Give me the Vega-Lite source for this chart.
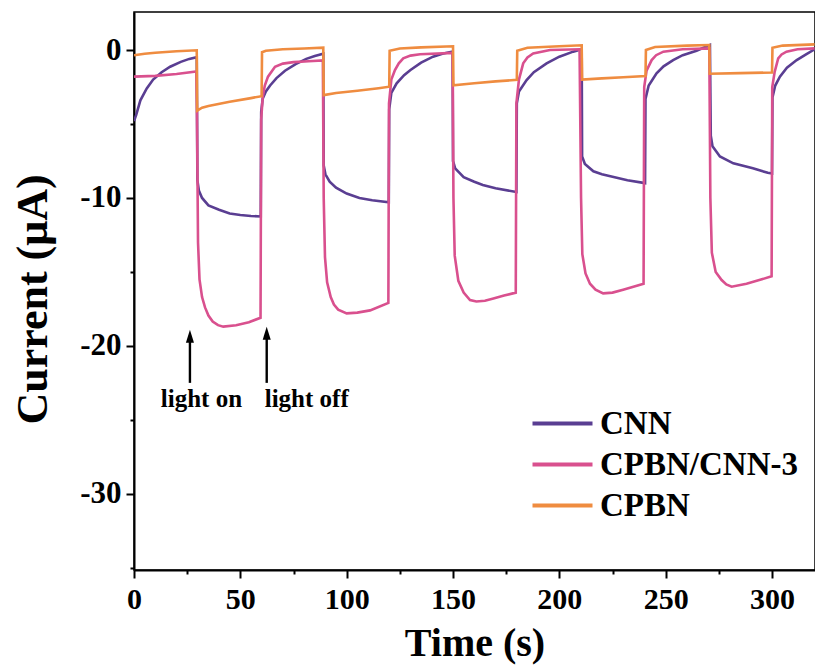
{
  "$schema": "https://vega.github.io/schema/vega-lite/v6.json",
  "width": 681,
  "height": 558,
  "autosize": {"type": "none"},
  "padding": {"left": 134, "top": 12, "right": 0, "bottom": 101},
  "background": "white",
  "config": {
    "font": "Liberation Serif",
    "view": {"stroke": "black", "strokeWidth": 1.5},
    "axis": {
      "domainColor": "black",
      "domainWidth": 2,
      "tickColor": "black",
      "tickWidth": 2,
      "labelColor": "black",
      "labelFont": "Liberation Serif",
      "labelFontWeight": "bold",
      "titleFont": "Liberation Serif",
      "titleFontWeight": "bold",
      "titleColor": "black",
      "grid": false
    },
    "legend": {
      "labelFont": "Liberation Serif",
      "labelFontWeight": "bold",
      "labelColor": "black"
    }
  },
  "encoding": {
    "x": {
      "field": "t",
      "type": "quantitative",
      "scale": {"domain": [0, 320.2], "nice": false, "zero": false},
      "axis": {
        "title": "Time (s)",
        "titleFontSize": 40,
        "titlePadding": 9,
        "values": [0, 25, 50, 75, 100, 125, 150, 175, 200, 225, 250, 275, 300],
        "labelExpr": "datum.value % 50 === 0 ? toString(datum.value) : ''",
        "labelFontSize": 30,
        "labelPadding": 6,
        "labelFlush": false,
        "tickSize": {"condition": {"test": "datum.value % 50 !== 0", "value": 4}, "value": 8}
      }
    },
    "y": {
      "field": "i",
      "type": "quantitative",
      "scale": {"domain": [-35.15, 2.57], "nice": false, "zero": false},
      "axis": {
        "title": "Current (μA)",
        "titleFontSize": 44,
        "titlePadding": 24,
        "titleY": 287,
        "values": [-35, -30, -25, -20, -15, -10, -5, 0],
        "labelExpr": "datum.value % 10 === 0 ? toString(datum.value) : ''",
        "labelFontSize": 31,
        "labelPadding": 5,
        "labelFlush": false,
        "tickSize": {"condition": {"test": "datum.value % 10 !== 0", "value": 4}, "value": 8}
      }
    }
  },
  "layer": [
    {
      "data": {
        "values": [
          {"s": "CNN", "t": 0, "i": -4.8}, {"s": "CNN", "t": 1, "i": -4.4}, {"s": "CNN", "t": 3, "i": -3.4}, {"s": "CNN", "t": 6, "i": -2.6}, {"s": "CNN", "t": 9, "i": -2.0}, {"s": "CNN", "t": 13, "i": -1.5}, {"s": "CNN", "t": 17, "i": -1.13}, {"s": "CNN", "t": 22, "i": -0.8}, {"s": "CNN", "t": 26, "i": -0.6}, {"s": "CNN", "t": 29.5, "i": -0.48},
          {"s": "CNN", "t": 29.8, "i": -8.8}, {"s": "CNN", "t": 30.5, "i": -9.5}, {"s": "CNN", "t": 32, "i": -10.0}, {"s": "CNN", "t": 35, "i": -10.5}, {"s": "CNN", "t": 40, "i": -10.8}, {"s": "CNN", "t": 45, "i": -11.05}, {"s": "CNN", "t": 50, "i": -11.15}, {"s": "CNN", "t": 55, "i": -11.22}, {"s": "CNN", "t": 59.6, "i": -11.25},
          {"s": "CNN", "t": 59.8, "i": -4.2}, {"s": "CNN", "t": 60.5, "i": -3.3}, {"s": "CNN", "t": 62, "i": -2.8}, {"s": "CNN", "t": 64, "i": -2.4}, {"s": "CNN", "t": 67, "i": -1.9}, {"s": "CNN", "t": 71, "i": -1.4}, {"s": "CNN", "t": 76, "i": -0.95}, {"s": "CNN", "t": 81, "i": -0.6}, {"s": "CNN", "t": 85, "i": -0.4}, {"s": "CNN", "t": 89, "i": -0.25},
          {"s": "CNN", "t": 89.2, "i": -7.8}, {"s": "CNN", "t": 90, "i": -8.4}, {"s": "CNN", "t": 92, "i": -8.9}, {"s": "CNN", "t": 95, "i": -9.3}, {"s": "CNN", "t": 100, "i": -9.7}, {"s": "CNN", "t": 106, "i": -10.0}, {"s": "CNN", "t": 112, "i": -10.15}, {"s": "CNN", "t": 119.8, "i": -10.3},
          {"s": "CNN", "t": 120, "i": -4.0}, {"s": "CNN", "t": 121, "i": -2.9}, {"s": "CNN", "t": 123.5, "i": -2.25}, {"s": "CNN", "t": 127, "i": -1.7}, {"s": "CNN", "t": 130, "i": -1.35}, {"s": "CNN", "t": 135, "i": -0.85}, {"s": "CNN", "t": 140.6, "i": -0.45}, {"s": "CNN", "t": 145, "i": -0.25}, {"s": "CNN", "t": 149.8, "i": -0.1},
          {"s": "CNN", "t": 150, "i": -7.5}, {"s": "CNN", "t": 151, "i": -8.0}, {"s": "CNN", "t": 155, "i": -8.6}, {"s": "CNN", "t": 160, "i": -8.9}, {"s": "CNN", "t": 164, "i": -9.12}, {"s": "CNN", "t": 170, "i": -9.35}, {"s": "CNN", "t": 179.8, "i": -9.6},
          {"s": "CNN", "t": 180, "i": -3.6}, {"s": "CNN", "t": 181, "i": -2.8}, {"s": "CNN", "t": 184.6, "i": -2.03}, {"s": "CNN", "t": 188, "i": -1.5}, {"s": "CNN", "t": 194, "i": -0.9}, {"s": "CNN", "t": 200, "i": -0.45}, {"s": "CNN", "t": 206.5, "i": -0.11}, {"s": "CNN", "t": 210.5, "i": 0.05},
          {"s": "CNN", "t": 210.7, "i": -7.2}, {"s": "CNN", "t": 212, "i": -7.7}, {"s": "CNN", "t": 216, "i": -8.2}, {"s": "CNN", "t": 220, "i": -8.4}, {"s": "CNN", "t": 225, "i": -8.56}, {"s": "CNN", "t": 232, "i": -8.8}, {"s": "CNN", "t": 240.3, "i": -9.0},
          {"s": "CNN", "t": 240.5, "i": -3.3}, {"s": "CNN", "t": 242, "i": -2.4}, {"s": "CNN", "t": 245.7, "i": -1.58}, {"s": "CNN", "t": 249, "i": -1.1}, {"s": "CNN", "t": 253.5, "i": -0.68}, {"s": "CNN", "t": 258, "i": -0.35}, {"s": "CNN", "t": 264.5, "i": -0.05}, {"s": "CNN", "t": 270.8, "i": 0.34},
          {"s": "CNN", "t": 271.2, "i": -5.8}, {"s": "CNN", "t": 272, "i": -6.5}, {"s": "CNN", "t": 275.5, "i": -7.2}, {"s": "CNN", "t": 281.8, "i": -7.66}, {"s": "CNN", "t": 291, "i": -8.0}, {"s": "CNN", "t": 298, "i": -8.3}, {"s": "CNN", "t": 300, "i": -8.35},
          {"s": "CNN", "t": 300.2, "i": -3.2}, {"s": "CNN", "t": 301.5, "i": -2.4}, {"s": "CNN", "t": 303.7, "i": -1.8}, {"s": "CNN", "t": 307, "i": -1.2}, {"s": "CNN", "t": 311.6, "i": -0.68}, {"s": "CNN", "t": 316, "i": -0.3}, {"s": "CNN", "t": 320, "i": 0.05},

          {"s": "CPBN/CNN-3", "t": 0, "i": -1.8}, {"s": "CPBN/CNN-3", "t": 10, "i": -1.75}, {"s": "CPBN/CNN-3", "t": 20, "i": -1.62}, {"s": "CPBN/CNN-3", "t": 29.3, "i": -1.45},
          {"s": "CPBN/CNN-3", "t": 29.6, "i": -4.2}, {"s": "CPBN/CNN-3", "t": 30.1, "i": -13}, {"s": "CPBN/CNN-3", "t": 30.8, "i": -15.5}, {"s": "CPBN/CNN-3", "t": 32, "i": -16.7}, {"s": "CPBN/CNN-3", "t": 33.4, "i": -17.4}, {"s": "CPBN/CNN-3", "t": 35, "i": -17.95}, {"s": "CPBN/CNN-3", "t": 37, "i": -18.35}, {"s": "CPBN/CNN-3", "t": 39.5, "i": -18.6}, {"s": "CPBN/CNN-3", "t": 42, "i": -18.7}, {"s": "CPBN/CNN-3", "t": 48, "i": -18.6}, {"s": "CPBN/CNN-3", "t": 54, "i": -18.4}, {"s": "CPBN/CNN-3", "t": 59.5, "i": -18.1},
          {"s": "CPBN/CNN-3", "t": 59.8, "i": -4.7}, {"s": "CPBN/CNN-3", "t": 60.5, "i": -3.2}, {"s": "CPBN/CNN-3", "t": 61.5, "i": -2.4}, {"s": "CPBN/CNN-3", "t": 63, "i": -1.8}, {"s": "CPBN/CNN-3", "t": 66.3, "i": -1.13}, {"s": "CPBN/CNN-3", "t": 70, "i": -0.92}, {"s": "CPBN/CNN-3", "t": 75, "i": -0.82}, {"s": "CPBN/CNN-3", "t": 82, "i": -0.76}, {"s": "CPBN/CNN-3", "t": 88.8, "i": -0.7},
          {"s": "CPBN/CNN-3", "t": 89.2, "i": -10}, {"s": "CPBN/CNN-3", "t": 89.8, "i": -14}, {"s": "CPBN/CNN-3", "t": 90.8, "i": -15.7}, {"s": "CPBN/CNN-3", "t": 92.5, "i": -16.7}, {"s": "CPBN/CNN-3", "t": 94, "i": -17.2}, {"s": "CPBN/CNN-3", "t": 96, "i": -17.55}, {"s": "CPBN/CNN-3", "t": 100, "i": -17.8}, {"s": "CPBN/CNN-3", "t": 105, "i": -17.75}, {"s": "CPBN/CNN-3", "t": 111, "i": -17.6}, {"s": "CPBN/CNN-3", "t": 119.6, "i": -17.1},
          {"s": "CPBN/CNN-3", "t": 119.9, "i": -3.6}, {"s": "CPBN/CNN-3", "t": 121, "i": -2.0}, {"s": "CPBN/CNN-3", "t": 122.7, "i": -1.35}, {"s": "CPBN/CNN-3", "t": 124.5, "i": -0.9}, {"s": "CPBN/CNN-3", "t": 126.6, "i": -0.56}, {"s": "CPBN/CNN-3", "t": 130, "i": -0.38}, {"s": "CPBN/CNN-3", "t": 134.5, "i": -0.29}, {"s": "CPBN/CNN-3", "t": 149.8, "i": -0.2},
          {"s": "CPBN/CNN-3", "t": 150.2, "i": -10}, {"s": "CPBN/CNN-3", "t": 150.8, "i": -13.9}, {"s": "CPBN/CNN-3", "t": 152.5, "i": -15.6}, {"s": "CPBN/CNN-3", "t": 155, "i": -16.4}, {"s": "CPBN/CNN-3", "t": 158, "i": -16.9}, {"s": "CPBN/CNN-3", "t": 161, "i": -17.0}, {"s": "CPBN/CNN-3", "t": 165, "i": -16.95}, {"s": "CPBN/CNN-3", "t": 169, "i": -16.8}, {"s": "CPBN/CNN-3", "t": 174, "i": -16.6}, {"s": "CPBN/CNN-3", "t": 179.5, "i": -16.4},
          {"s": "CPBN/CNN-3", "t": 179.8, "i": -3.6}, {"s": "CPBN/CNN-3", "t": 181, "i": -2.0}, {"s": "CPBN/CNN-3", "t": 183, "i": -0.9}, {"s": "CPBN/CNN-3", "t": 185, "i": -0.5}, {"s": "CPBN/CNN-3", "t": 187.7, "i": -0.23}, {"s": "CPBN/CNN-3", "t": 195.6, "i": 0.0}, {"s": "CPBN/CNN-3", "t": 209.5, "i": 0.05},
          {"s": "CPBN/CNN-3", "t": 210.2, "i": -10}, {"s": "CPBN/CNN-3", "t": 210.8, "i": -13.8}, {"s": "CPBN/CNN-3", "t": 212.3, "i": -15.1}, {"s": "CPBN/CNN-3", "t": 214.4, "i": -15.8}, {"s": "CPBN/CNN-3", "t": 217, "i": -16.2}, {"s": "CPBN/CNN-3", "t": 220.6, "i": -16.45}, {"s": "CPBN/CNN-3", "t": 225, "i": -16.4}, {"s": "CPBN/CNN-3", "t": 230, "i": -16.2}, {"s": "CPBN/CNN-3", "t": 239.6, "i": -15.8},
          {"s": "CPBN/CNN-3", "t": 239.9, "i": -2.5}, {"s": "CPBN/CNN-3", "t": 241, "i": -1.4}, {"s": "CPBN/CNN-3", "t": 243.4, "i": -0.68}, {"s": "CPBN/CNN-3", "t": 245.5, "i": -0.35}, {"s": "CPBN/CNN-3", "t": 248.9, "i": -0.11}, {"s": "CPBN/CNN-3", "t": 258, "i": 0.05}, {"s": "CPBN/CNN-3", "t": 270.5, "i": 0.11},
          {"s": "CPBN/CNN-3", "t": 271, "i": -10}, {"s": "CPBN/CNN-3", "t": 271.7, "i": -13.7}, {"s": "CPBN/CNN-3", "t": 273.5, "i": -15.0}, {"s": "CPBN/CNN-3", "t": 276.3, "i": -15.55}, {"s": "CPBN/CNN-3", "t": 278.5, "i": -15.85}, {"s": "CPBN/CNN-3", "t": 281, "i": -16.0}, {"s": "CPBN/CNN-3", "t": 288, "i": -15.8}, {"s": "CPBN/CNN-3", "t": 294, "i": -15.55}, {"s": "CPBN/CNN-3", "t": 299.8, "i": -15.3},
          {"s": "CPBN/CNN-3", "t": 300.1, "i": -2.5}, {"s": "CPBN/CNN-3", "t": 301.2, "i": -1.5}, {"s": "CPBN/CNN-3", "t": 302.9, "i": -0.56}, {"s": "CPBN/CNN-3", "t": 304.5, "i": -0.3}, {"s": "CPBN/CNN-3", "t": 306.8, "i": -0.11}, {"s": "CPBN/CNN-3", "t": 312, "i": 0.05}, {"s": "CPBN/CNN-3", "t": 320, "i": 0.11},

          {"s": "CPBN", "t": 0, "i": -0.35}, {"s": "CPBN", "t": 5, "i": -0.25}, {"s": "CPBN", "t": 10, "i": -0.18}, {"s": "CPBN", "t": 20, "i": -0.08}, {"s": "CPBN", "t": 29.5, "i": -0.02},
          {"s": "CPBN", "t": 29.7, "i": -4.1}, {"s": "CPBN", "t": 32, "i": -3.9}, {"s": "CPBN", "t": 35, "i": -3.78}, {"s": "CPBN", "t": 45, "i": -3.5}, {"s": "CPBN", "t": 55, "i": -3.25}, {"s": "CPBN", "t": 60, "i": -3.12},
          {"s": "CPBN", "t": 60.2, "i": -0.15}, {"s": "CPBN", "t": 62, "i": -0.05}, {"s": "CPBN", "t": 70, "i": 0.05}, {"s": "CPBN", "t": 80, "i": 0.1}, {"s": "CPBN", "t": 89, "i": 0.16},
          {"s": "CPBN", "t": 89.2, "i": -3.05}, {"s": "CPBN", "t": 95, "i": -2.9}, {"s": "CPBN", "t": 105, "i": -2.75}, {"s": "CPBN", "t": 115, "i": -2.58}, {"s": "CPBN", "t": 120, "i": -2.48},
          {"s": "CPBN", "t": 120.2, "i": -0.05}, {"s": "CPBN", "t": 125, "i": 0.1}, {"s": "CPBN", "t": 135, "i": 0.18}, {"s": "CPBN", "t": 150, "i": 0.25},
          {"s": "CPBN", "t": 150.2, "i": -2.38}, {"s": "CPBN", "t": 160, "i": -2.25}, {"s": "CPBN", "t": 170, "i": -2.12}, {"s": "CPBN", "t": 180, "i": -2.02},
          {"s": "CPBN", "t": 180.2, "i": -0.05}, {"s": "CPBN", "t": 185, "i": 0.15}, {"s": "CPBN", "t": 200, "i": 0.25}, {"s": "CPBN", "t": 210.5, "i": 0.32},
          {"s": "CPBN", "t": 210.7, "i": -2.0}, {"s": "CPBN", "t": 220, "i": -1.92}, {"s": "CPBN", "t": 230, "i": -1.84}, {"s": "CPBN", "t": 240.5, "i": -1.76},
          {"s": "CPBN", "t": 240.7, "i": 0.0}, {"s": "CPBN", "t": 245, "i": 0.2}, {"s": "CPBN", "t": 260, "i": 0.3}, {"s": "CPBN", "t": 270.5, "i": 0.34},
          {"s": "CPBN", "t": 270.7, "i": -1.6}, {"s": "CPBN", "t": 285, "i": -1.56}, {"s": "CPBN", "t": 300, "i": -1.52},
          {"s": "CPBN", "t": 300.2, "i": 0.15}, {"s": "CPBN", "t": 305, "i": 0.3}, {"s": "CPBN", "t": 320, "i": 0.38}
        ]
      },
      "mark": {"type": "line", "strokeWidth": 2.6, "clip": true, "interpolate": "linear"},
      "encoding": {
        "color": {
          "field": "s",
          "type": "nominal",
          "scale": {"domain": ["CNN", "CPBN/CNN-3", "CPBN"], "range": ["#5a3e92", "#d9508e", "#ef8c40"]},
          "legend": {
            "title": null,
            "orient": "none",
            "legendX": 412,
            "legendY": 395,
            "padding": 0,
            "symbolType": "M-3,0H3",
            "symbolSize": 400,
            "symbolStrokeWidth": 4,
            "rowPadding": 7,
            "labelFontSize": 33,
            "labelOffset": 21,
            "labelLimit": 400
          }
        }
      }
    },
    {
      "data": {"values": [{"t": 26.3, "i": -22.5, "i2": -19.3}, {"t": 62.4, "i": -22.5, "i2": -19.1}]},
      "mark": {"type": "rule", "color": "black", "strokeWidth": 2.4},
      "encoding": {"y2": {"field": "i2"}}
    },
    {
      "data": {"values": [{"t": 26.3, "i": -19.35}, {"t": 62.4, "i": -19.15}]},
      "mark": {"type": "point", "shape": "M0,-1L0.62,1L-0.62,1Z", "size": 169, "filled": true, "color": "black", "opacity": 1},
      "encoding": {}
    },
    {
      "data": {"values": [{"t": 31.7, "i": -24.1, "label": "light on"}, {"t": 81.2, "i": -24.1, "label": "light off"}]},
      "mark": {"type": "text", "fontSize": 25, "fontWeight": "bold", "font": "Liberation Serif", "color": "black", "align": "center", "baseline": "alphabetic"},
      "encoding": {"text": {"field": "label"}}
    }
  ]
}
